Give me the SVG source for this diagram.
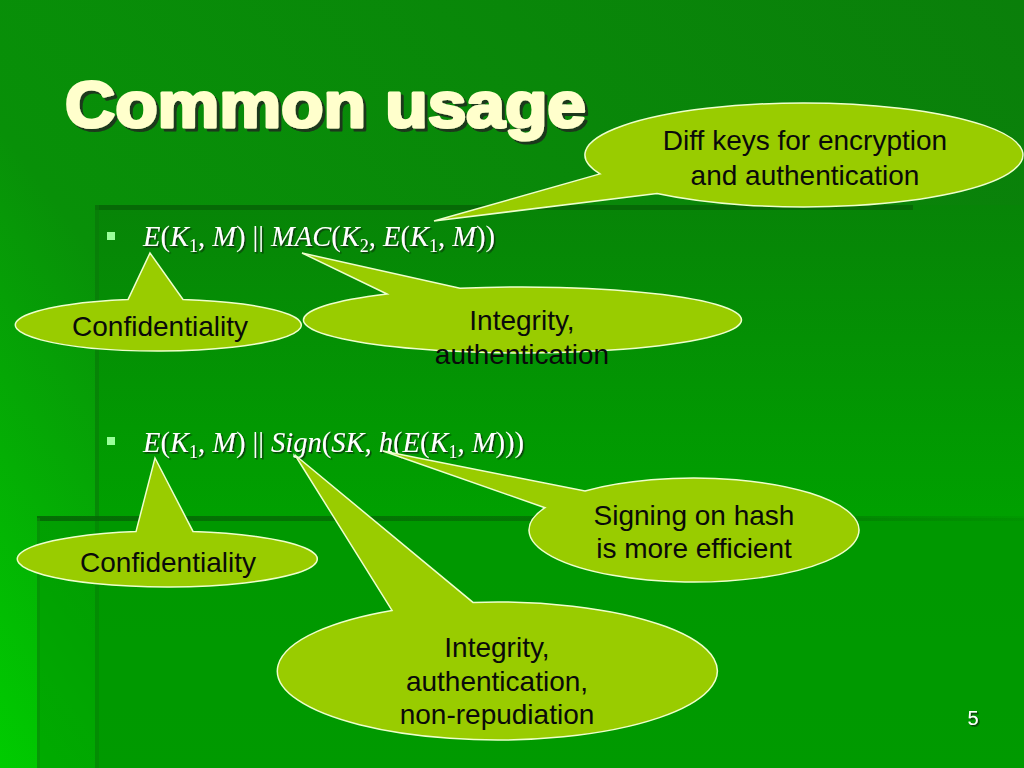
<svg xmlns="http://www.w3.org/2000/svg" width="1024" height="768" viewBox="0 0 1024 768">
<defs>
<linearGradient id="bg" gradientUnits="userSpaceOnUse" x1="0" y1="768" x2="1024" y2="0">
<stop offset="0" stop-color="#00cc00"/>
<stop offset="0.3" stop-color="#089008"/>
<stop offset="1" stop-color="#0a7f0a"/>
</linearGradient>
<linearGradient id="gA" gradientUnits="userSpaceOnUse" x1="0" y1="205" x2="0" y2="768">
<stop offset="0" stop-color="#078407"/>
<stop offset="0.55" stop-color="#00a000"/>
<stop offset="1" stop-color="#00a400"/>
</linearGradient>
<linearGradient id="gLine" x1="0" y1="0" x2="1" y2="0">
<stop offset="0" stop-color="#056805" stop-opacity="0.9"/>
<stop offset="0.7" stop-color="#056805" stop-opacity="0.6"/>
<stop offset="1" stop-color="#056805" stop-opacity="0.1"/>
</linearGradient>
<filter id="sh" x="-5%" y="-20%" width="110%" height="140%">
<feDropShadow dx="3" dy="3" stdDeviation="0.6" flood-color="#1a2a1a" flood-opacity="0.85"/>
</filter>
<filter id="sh2" x="-5%" y="-30%" width="110%" height="160%">
<feDropShadow dx="1.5" dy="1.5" stdDeviation="0.6" flood-color="#103010" flood-opacity="0.9"/>
</filter>
<style>
.bub{fill:#99cc00;stroke:#eeffcc;stroke-width:1.5}
.bt{font-family:"Liberation Sans",Arial,sans-serif;font-size:28px;fill:#0a0a0a;text-anchor:middle}
.f{font-family:"Liberation Serif","Times New Roman",serif;font-size:28.5px;fill:#ffffff}
.i{font-style:italic}
.s{font-size:18px}
.bul{fill:#99ff99}
</style>
</defs>

<g id="background">
<rect x="0" y="0" width="1024" height="768" fill="url(#bg)"/>
<rect x="95" y="205" width="929" height="563" fill="url(#gA)"/>
<rect x="95" y="205" width="818" height="5" fill="#066a06"/>
<rect x="95" y="205" width="4" height="563" fill="#0a7a0a" opacity="0.6"/>
<rect x="37" y="518" width="987" height="250" fill="#009000" opacity="0.5"/>
<rect x="37" y="516" width="987" height="5" fill="url(#gLine)"/>
<rect x="37" y="518" width="3" height="250" fill="#0a8a0a" opacity="0.6"/>
</g>

<g id="title">
<text x="65" y="127" font-family="'Liberation Sans',Arial,sans-serif" font-weight="bold" font-size="64" fill="#ffffcc" stroke="#ffffcc" stroke-width="3" stroke-linejoin="round" textLength="521" lengthAdjust="spacingAndGlyphs" filter="url(#sh)">Common usage</text>
</g>

<g id="formula1">
<rect class="bul" x="107" y="232" width="8" height="8"/>
<text class="f" x="143" y="246" filter="url(#sh2)"><tspan class="i">E</tspan>(<tspan class="i">K</tspan><tspan class="s" dy="6">1</tspan><tspan dy="-6">, </tspan><tspan class="i">M</tspan>) || <tspan class="i">MAC</tspan>(<tspan class="i">K</tspan><tspan class="s" dy="6">2</tspan><tspan dy="-6">, </tspan><tspan class="i">E</tspan>(<tspan class="i">K</tspan><tspan class="s" dy="6">1</tspan><tspan dy="-6">, </tspan><tspan class="i">M</tspan>))</text>
</g>

<g id="formula2">
<rect class="bul" x="107" y="437" width="8" height="8"/>
<text class="f" x="143" y="452" filter="url(#sh2)"><tspan class="i">E</tspan>(<tspan class="i">K</tspan><tspan class="s" dy="6">1</tspan><tspan dy="-6">, </tspan><tspan class="i">M</tspan>) || <tspan class="i">Sign</tspan>(<tspan class="i">SK</tspan>, <tspan class="i">h</tspan>(<tspan class="i">E</tspan>(<tspan class="i">K</tspan><tspan class="s" dy="6">1</tspan><tspan dy="-6">, </tspan><tspan class="i">M</tspan>)))</text>
</g>

<g id="connectors"/>

<g id="callout-diff-keys">
<path class="bub" d="M600,173.9 L434,221 L657,193.5 A219,52 0 1 0 600,173.9 Z"/>
<text class="bt" x="805" y="150">Diff keys for encryption</text>
<text class="bt" x="805" y="185">and authentication</text>
</g>

<g id="callout-confidentiality-1">
<path class="bub" d="M128,299.6 L150,253 L183,299.4 A143,26 0 1 1 128,299.6 Z"/>
<text class="bt" x="160" y="336">Confidentiality</text>
</g>

<g id="callout-integrity-1">
<path class="bub" d="M387,294 L302,253 L460,288.3 A219,33 0 1 1 387,294 Z"/>
<text class="bt" x="522" y="330">Integrity,</text>
<text class="bt" x="522" y="364">authentication</text>
</g>

<g id="callout-confidentiality-2">
<path class="bub" d="M136,531.6 L155,458 L193,531.4 A150,28 0 1 1 136,531.6 Z"/>
<text class="bt" x="168" y="572">Confidentiality</text>
</g>

<g id="callout-integrity-2">
<path class="bub" d="M392,610.4 L295,455 L473,602.4 A220,69 0 1 1 392,610.4 Z"/>
<text class="bt" x="497" y="657">Integrity,</text>
<text class="bt" x="497" y="691">authentication,</text>
<text class="bt" x="497" y="724">non-repudiation</text>
</g>

<g id="callout-signing">
<path class="bub" d="M545,507.7 L383,451 L585,491 A165,52 0 1 1 545,507.7 Z"/>
<text class="bt" x="694" y="525">Signing on hash</text>
<text class="bt" x="694" y="558">is more efficient</text>
</g>

<g id="page-number">
<text x="973" y="725" font-family="'Liberation Sans',Arial,sans-serif" font-size="20" fill="#ffffff" text-anchor="middle" filter="url(#sh2)">5</text>
</g>
</svg>
